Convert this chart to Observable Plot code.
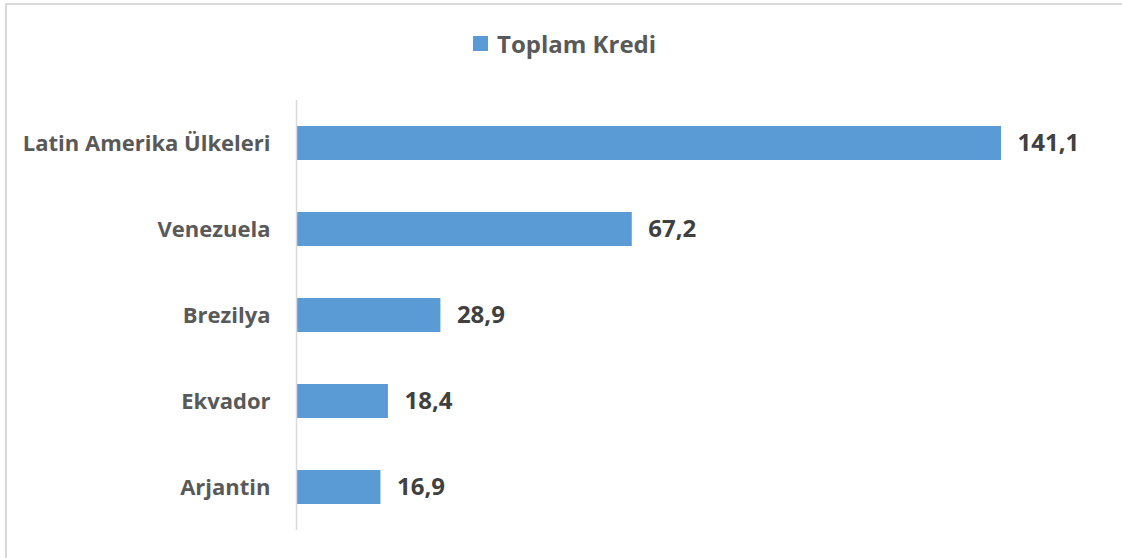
<!DOCTYPE html>
<html><head><meta charset="utf-8">
<script src="https://cdn.jsdelivr.net/npm/d3@7"></script>
<script src="https://cdn.jsdelivr.net/npm/@observablehq/plot@0.6"></script>
<style>
body{margin:0;background:#fff;font-family:"Open Sans",sans-serif;}
#wrap{position:relative;width:1122px;height:558px;overflow:hidden;}
#frame{position:absolute;left:5px;top:3px;width:1200px;height:600px;border-left:2px solid #d9d9d9;border-top:2px solid #d9d9d9;}
#legend{position:absolute;left:0;top:0;width:1122px;height:90px;}
#legend .item{position:absolute;left:473px;top:27px;display:flex;align-items:center;font-weight:bold;font-size:24px;color:#595959;}
#legend .sw{width:15px;height:15px;background:#5b9bd5;margin-right:9px;}
#chart{position:absolute;left:0;top:90px;}
</style></head>
<body><div id="wrap"><div id="frame"></div>
<div id="legend"><div class="item"><div class="sw"></div><span>Toplam Kredi</span></div></div>
<div id="chart"></div></div>
<script>
const categories = ["Latin Amerika Ülkeleri","Venezuela","Brezilya","Ekvador","Arjantin"];
const values = [141.1, 67.2, 28.9, 18.4, 16.9];
const labels = ["141,1","67,2","28,9","18,4","16,9"];
const data = categories.map((c,i)=>({cat:c,val:values[i],lab:labels[i]}));
const chart = Plot.plot({
  width:1122, height:468,
  marginLeft:296, marginRight:121, marginTop:10, marginBottom:28,
  style:{fontFamily:"'Open Sans', sans-serif", background:"transparent"},
  x:{domain:[0,141.1], axis:null},
  y:{domain:categories, paddingInner:0.6, paddingOuter:0.3, label:null, axis:null},
  marks:[
    Plot.barX(data,{x:"val", y:"cat", fill:"#5b9bd5"}),
    Plot.ruleX([0],{stroke:"#d9d9d9", strokeWidth:1.5}),
    Plot.text(data,{x:0, y:"cat", text:"cat", textAnchor:"end", dx:-26, fontSize:22, fontWeight:"bold", fill:"#595959"}),
    Plot.text(data,{x:"val", y:"cat", text:"lab", textAnchor:"start", dx:16, fontSize:24, fontWeight:"bold", fill:"#404040"})
  ]
});
document.getElementById("chart").appendChild(chart);
</script></body></html>
